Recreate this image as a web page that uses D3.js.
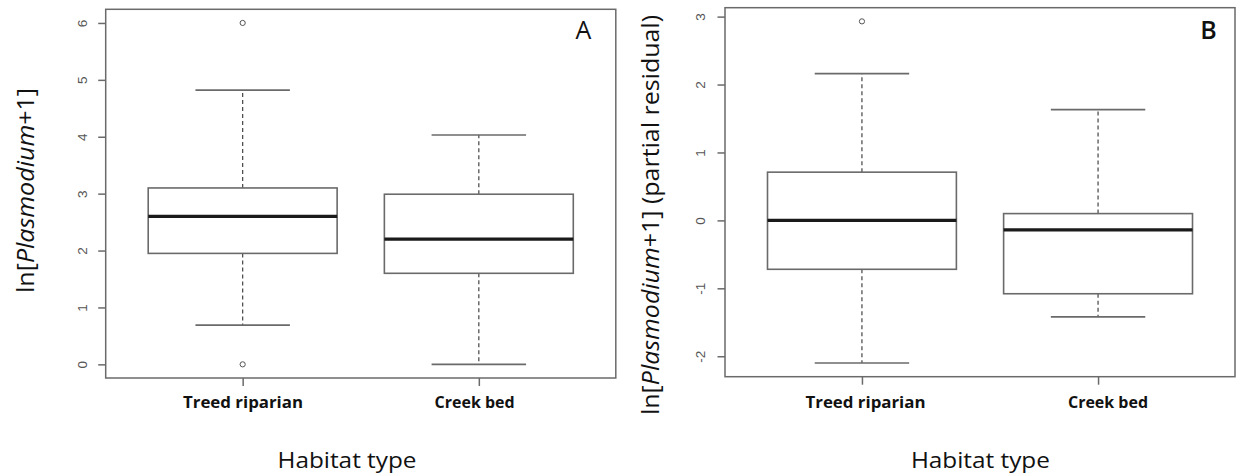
<!DOCTYPE html>
<html>
<head>
<meta charset="utf-8">
<script src="https://cdn.jsdelivr.net/npm/d3@7"></script>
<style>
  html, body { margin: 0; padding: 0; background: #fff; }
  svg { display: block; }
</style>
</head>
<body>
<svg id="chart" width="1239" height="476"></svg>
<script>
// ---- Data ----
const categories = ["Treed riparian", "Creek bed"];

// Panel A: ln[Plasmodium+1]
const aLowerWhisker = [0.69, 0.00];
const aQ1           = [1.95, 1.60];
const aMedian       = [2.60, 2.20];
const aQ3           = [3.10, 2.99];
const aUpperWhisker = [4.82, 4.03];
const aOutliers     = [[6.0, 0.0], []];
const aTicks        = [0, 1, 2, 3, 4, 5, 6];

// Panel B: partial residual
const bLowerWhisker = [-2.10, -1.42];
const bQ1           = [-0.72, -1.08];
const bMedian       = [0.00, -0.14];
const bQ3           = [0.71, 0.10];
const bUpperWhisker = [2.16, 1.63];
const bOutliers     = [[2.93], []];
const bTicks        = [-2, -1, 0, 1, 2, 3];

const svg = d3.select("#chart");
const FONT = "'Open Sans', 'Noto Sans', sans-serif";

function panel(cfg) {
  const g = svg.append("g");
  const { x0, x1, y0, y1 } = cfg;
  // data extent, expanded 4% like R
  const all = [].concat(cfg.lw, cfg.uw, ...cfg.out);
  const lo = d3.min(all), hi = d3.max(all);
  const pad = (hi - lo) * 0.04;
  const y = d3.scaleLinear().domain([lo - pad, hi + pad]).range([y1, y0]);
  const x = d3.scaleLinear().domain([0.42, 2.58]).range([x0, x1]);

  // frame
  g.append("rect").attr("x", x0).attr("y", y0)
    .attr("width", x1 - x0).attr("height", y1 - y0)
    .attr("fill", "none").attr("stroke", "#6a6a6a").attr("stroke-width", 1.5);

  // y axis
  const yAxis = d3.axisLeft(y).tickValues(cfg.ticks).tickSize(7.5).tickFormat(d3.format("d"));
  const ya = g.append("g").attr("transform", `translate(${x0},0)`).call(yAxis);
  ya.select(".domain").remove();
  ya.selectAll(".tick line").attr("stroke", "#6a6a6a").attr("stroke-width", 1.5);
  ya.selectAll(".tick text").remove();
  ya.selectAll(".tick").append("text")
    .attr("transform", `translate(${-cfg.labOff},0) rotate(-90)`)
    .attr("text-anchor", "middle")
    .attr("fill", "#555")
    .style("font-family", "'Liberation Sans', Arial, sans-serif")
    .style("font-size", "13.5px")
    .text(d => d);

  // x axis
  const xAxis = d3.axisBottom(x).tickValues([1, 2]).tickSize(8).tickFormat(() => "");
  const xa = g.append("g").attr("transform", `translate(0,${y1})`).call(xAxis);
  xa.select(".domain").remove();
  xa.selectAll(".tick line").attr("stroke", "#6a6a6a").attr("stroke-width", 1.5);

  categories.forEach((c, i) => {
    const cx = x(i + 1);
    // whiskers
    g.append("line").attr("x1", cx).attr("x2", cx)
      .attr("y1", y(cfg.q3[i])).attr("y2", y(cfg.uw[i]))
      .attr("stroke", "#444").attr("stroke-width", 1.2).attr("stroke-dasharray", "4,3");
    g.append("line").attr("x1", cx).attr("x2", cx)
      .attr("y1", y(cfg.q1[i])).attr("y2", y(cfg.lw[i]))
      .attr("stroke", "#444").attr("stroke-width", 1.2).attr("stroke-dasharray", "4,3");
    // caps
    [cfg.uw[i], cfg.lw[i]].forEach(v => {
      g.append("line").attr("x1", x(i + 1 - 0.2)).attr("x2", x(i + 1 + 0.2))
        .attr("y1", y(v)).attr("y2", y(v))
        .attr("stroke", "#6a6a6a").attr("stroke-width", 1.6);
    });
    // box
    g.append("rect").attr("x", x(i + 1 - 0.4)).attr("y", y(cfg.q3[i]))
      .attr("width", x(i + 1 + 0.4) - x(i + 1 - 0.4))
      .attr("height", y(cfg.q1[i]) - y(cfg.q3[i]))
      .attr("fill", "#fff").attr("stroke", "#6a6a6a").attr("stroke-width", 1.6);
    // median
    g.append("line").attr("x1", x(i + 1 - 0.4)).attr("x2", x(i + 1 + 0.4))
      .attr("y1", y(cfg.med[i])).attr("y2", y(cfg.med[i]))
      .attr("stroke", "#1a1a1a").attr("stroke-width", 3.2);
    // outliers
    cfg.out[i].forEach(v => {
      g.append("circle").attr("cx", cx).attr("cy", y(v)).attr("r", 2.6)
        .attr("fill", "none").attr("stroke", "#555").attr("stroke-width", 1);
    });
    // category labels
    g.append("text").attr("x", cfg.catX[i]).attr("y", 408)
      .attr("text-anchor", "middle")
      .attr("textLength", cfg.catW[i]).attr("lengthAdjust", "spacingAndGlyphs")
      .style("font-family", FONT).style("font-size", "16px").style("font-weight", "bold")
      .attr("fill", "#111")
      .text(c);
  });

  // x title
  g.append("text").attr("x", cfg.xTitleX).attr("y", 468)
    .attr("text-anchor", "middle")
    .attr("textLength", 139).attr("lengthAdjust", "spacingAndGlyphs")
    .style("font-family", FONT).style("font-size", "22px").attr("fill", "#111")
    .text("Habitat type");

  // y title
  const yt = g.append("text")
    .attr("transform", `translate(${cfg.yTitleX},${cfg.yTitleY}) rotate(-90)`)
    .attr("text-anchor", "middle")
    .attr("textLength", cfg.yTitleW).attr("lengthAdjust", "spacingAndGlyphs")
    .style("font-family", FONT).style("font-size", "24px").attr("fill", "#111");
  yt.append("tspan").text("ln[");
  yt.append("tspan").style("font-style", "italic").text("Plasmodium");
  yt.append("tspan").text("+1]" + cfg.yTitleSuffix);

  // panel letter
  g.append("text").attr("x", cfg.letterX).attr("y", 39)
    .attr("text-anchor", "middle")
    .style("font-family", FONT).style("font-size", "25px")
    .style("font-weight", cfg.letterWeight).attr("fill", "#111")
    .text(cfg.letter);
}

panel({
  x0: 105.7, x1: 615.8, y0: 9.3, y1: 378,
  lw: aLowerWhisker, q1: aQ1, med: aMedian, q3: aQ3, uw: aUpperWhisker, out: aOutliers,
  ticks: aTicks, labOff: 18.4,
  catX: [243, 474.6], catW: [120, 80],
  xTitleX: 347,
  yTitleX: 34, yTitleY: 190.5, yTitleW: 205, yTitleSuffix: "",
  letter: "A", letterX: 583.5, letterWeight: "normal"
});

panel({
  x0: 725, x1: 1235, y0: 7.7, y1: 376.7,
  lw: bLowerWhisker, q1: bQ1, med: bMedian, q3: bQ3, uw: bUpperWhisker, out: bOutliers,
  ticks: bTicks, labOff: 20.5,
  catX: [865.5, 1108], catW: [120, 80],
  xTitleX: 980.4,
  yTitleX: 659, yTitleY: 215, yTitleW: 400, yTitleSuffix: " (partial residual)",
  letter: "B", letterX: 1208.6, letterWeight: "600"
});
</script>
</body>
</html>
